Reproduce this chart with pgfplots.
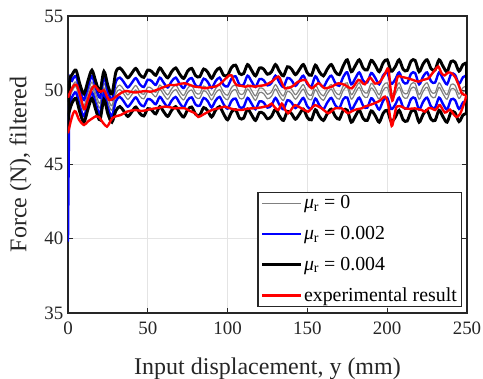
\documentclass[border=0pt]{standalone}
\usepackage{fontspec}
\setmainfont{Liberation Serif}
\usepackage{pgfplots}
\usepackage{pgfplotstable}
\pgfplotsset{compat=1.18}
\definecolor{axgray}{RGB}{38,38,38}
\definecolor{gridgray}{RGB}{228,228,228}
\definecolor{simgray}{RGB}{128,128,128}

\pgfplotstableread{
x gu gl bu bl ku kl
0 48.5 49.05 39.8 48.65 47.3 48.25
1 49.75 49.45 50.15 49.05 50.55 48.65
2.5 50.23 49.93 50.63 49.53 51.03 49.13
5 50.55 50.25 50.95 49.85 51.35 49.45
7.5 49.59 49.29 49.99 48.89 50.39 48.49
10 48.95 48.65 49.35 48.25 49.75 47.85
12.5 49.83 49.53 50.23 49.13 50.63 48.73
15 50.55 50.25 50.95 49.85 51.35 49.45
17.5 49.75 49.45 50.15 49.05 50.55 48.65
20 49.11 48.81 49.51 48.41 49.91 48.01
22.5 50.47 50.17 50.87 49.77 51.27 49.37
25 49.51 49.21 49.91 48.81 50.31 48.41
27.5 48.95 48.65 49.35 48.25 49.75 47.85
30 50.07 49.77 50.57 49.27 51.22 48.62
32.5 50.35 50.05 50.85 49.55 51.5 48.9
35 50.04 49.74 50.54 49.24 51.19 48.59
37.5 49.69 49.39 50.19 48.89 50.84 48.24
40 50.0 49.7 50.5 49.2 51.15 48.55
42.5 50.32 50.02 50.82 49.52 51.47 48.87
45 49.9 49.6 50.4 49.1 51.05 48.45
47.5 49.72 49.42 50.22 48.92 50.87 48.27
50 50.21 49.91 50.71 49.41 51.36 48.76
52.5 50.11 49.81 50.61 49.31 51.26 48.66
55 49.86 49.56 50.36 49.06 51.01 48.41
57.5 50.35 50.05 50.85 49.55 51.5 48.9
60 50.0 49.7 50.5 49.2 51.15 48.55
62.5 49.69 49.39 50.19 48.89 50.84 48.24
65 50.11 49.81 50.61 49.31 51.26 48.66
67.5 50.35 50.05 50.85 49.55 51.5 48.9
70 49.93 49.63 50.43 49.13 51.08 48.48
72.5 49.65 49.35 50.15 48.85 50.8 48.2
75 50.14 49.84 50.64 49.34 51.29 48.69
77.5 50.32 50.02 50.82 49.52 51.47 48.87
80 49.83 49.53 50.33 49.03 50.98 48.38
82.5 49.76 49.46 50.26 48.96 50.91 48.31
85 50.28 49.98 50.78 49.48 51.43 48.83
87.5 50.07 49.77 50.57 49.27 51.22 48.62
90 49.65 49.35 50.15 48.85 50.8 48.2
92.5 50.11 49.81 50.61 49.31 51.26 48.66
95 50.35 50.05 50.85 49.55 51.5 48.9
97.5 49.86 49.56 50.36 49.06 51.01 48.41
100 49.66 49.36 50.26 48.76 51.01 48.01
102.5 50.19 49.89 50.79 49.29 51.54 48.54
105 50.34 50.04 50.94 49.44 51.69 48.69
107.5 49.77 49.47 50.37 48.87 51.12 48.12
110 49.77 49.47 50.37 48.87 51.12 48.12
112.5 50.38 50.08 50.98 49.48 51.73 48.73
115 50.0 49.7 50.6 49.1 51.35 48.35
117.5 49.62 49.32 50.22 48.72 50.97 47.97
120 50.15 49.85 50.75 49.25 51.5 48.5
122.5 50.08 49.78 50.68 49.18 51.43 48.43
125 49.73 49.43 50.33 48.83 51.08 48.08
127.5 49.89 49.59 50.49 48.99 51.24 48.24
130 50.38 50.08 50.98 49.48 51.73 48.73
132.5 49.92 49.62 50.52 49.02 51.27 48.27
135 49.62 49.32 50.22 48.72 50.97 47.97
137.5 50.23 49.93 50.83 49.33 51.58 48.58
140 50.08 49.78 50.68 49.18 51.43 48.43
142.5 49.7 49.4 50.3 48.8 51.05 48.05
145 50.04 49.74 50.64 49.14 51.39 48.39
147.5 50.38 50.08 50.98 49.48 51.73 48.73
150 49.81 49.51 50.41 48.91 51.16 48.16
152.5 49.66 49.36 50.26 48.76 51.01 48.01
155 50.34 50.04 50.94 49.44 51.69 48.69
157.5 49.89 49.59 50.49 48.99 51.24 48.24
160 49.62 49.32 50.22 48.72 50.97 47.97
162.5 50.08 49.78 50.68 49.18 51.43 48.43
165 50.38 50.08 50.98 49.48 51.73 48.73
167.5 49.89 49.59 50.49 48.99 51.24 48.24
170 49.7 49.4 50.3 48.8 51.05 48.05
172.5 50.3 50.0 50.9 49.4 51.65 48.65
175 50.5 50.2 51.2 49.5 52.05 48.65
177.5 49.7 49.4 50.4 48.7 51.25 47.85
180 50.1 49.8 50.8 49.1 51.65 48.25
182.5 50.5 50.2 51.2 49.5 52.05 48.65
185 49.94 49.64 50.64 48.94 51.49 48.09
187.5 49.82 49.52 50.52 48.82 51.37 47.97
190 50.46 50.16 51.16 49.46 52.01 48.61
192.5 50.14 49.84 50.84 49.14 51.69 48.29
195 49.7 49.4 50.4 48.7 51.25 47.85
197.5 50.3 50.0 51.0 49.3 51.85 48.45
200 50.5 50.2 51.2 49.5 52.05 48.65
202.5 49.74 49.44 50.44 48.74 51.29 47.89
205 50.02 49.72 50.72 49.02 51.57 48.17
207.5 50.5 50.2 51.2 49.5 52.05 48.65
210 49.86 49.56 50.56 48.86 51.41 48.01
212.5 49.78 49.48 50.48 48.78 51.33 47.93
215 50.42 50.12 51.12 49.42 51.97 48.57
217.5 50.46 50.16 51.16 49.46 52.01 48.61
220 49.7 49.4 50.4 48.7 51.25 47.85
222.5 50.22 49.92 50.92 49.22 51.77 48.37
225 50.5 50.2 51.2 49.5 52.05 48.65
227.5 49.9 49.6 50.6 48.9 51.45 48.05
230 49.82 49.52 50.52 48.82 51.37 47.97
232.5 50.5 50.2 51.2 49.5 52.05 48.65
235 50.06 49.76 50.76 49.06 51.61 48.21
237.5 49.7 49.4 50.4 48.7 51.25 47.85
240 50.38 50.08 51.08 49.38 51.93 48.53
242.5 50.34 50.04 51.04 49.34 51.89 48.49
245 49.74 49.44 50.44 48.74 51.29 47.89
247.5 50.18 49.88 50.88 49.18 51.73 48.33
250 50.3 50.0 51.0 49.3 51.85 48.45
}\simdata

\begin{document}
\begin{tikzpicture}
\path[use as bounding box] (-51pt,-49.5pt) rectangle (311.25pt,234.75pt);
\begin{axis}[
  at={(0,0)}, anchor=south west,
  scale only axis, width=299.25pt, height=222.75pt,
  xmin=0, xmax=250, ymin=35, ymax=55,
  xtick={0,50,100,150,200,250}, ytick={35,40,45,50,55},
  grid=major, major grid style={gridgray, line width=0.8pt},
  axis line style={axgray, line width=1.5pt},
  tick style={axgray, line width=0.8pt}, tick align=inside, major tick length=3.5pt,
  ticklabel style={font=\fontsize{14.2}{16}\selectfont, text=axgray},
  xticklabel style={yshift=-3.5pt},
  /pgf/number format/assume math mode=true,
  label style={font=\fontsize{18}{21}\selectfont, text=axgray},
  xlabel={Input displacement, y (mm)},
  ylabel={Force (N), filtered},
  xlabel style={at={(axis description cs:0.5,-0.188)}, anchor=center},
  ylabel style={at={(axis description cs:-0.119,0.5)}, anchor=center},
  legend cell align=left,
  legend image code/.code={\draw[#1] (0pt,0pt) -- (29pt,0pt);},
  legend style={at={(0.9875,0.0202)}, anchor=south east, draw=axgray, line width=0.8pt,
    fill=white, font=\fontsize{14.9}{17}\selectfont, inner xsep=2pt, inner ysep=1pt,
    row sep=8.5pt, nodes={inner sep=1.5pt}},
]
% mu_r = 0
\addplot[simgray, line width=0.9pt, smooth, forget plot] table[x=x, y=gu] {\simdata};
\addplot[simgray, line width=0.9pt, smooth, forget plot] table[x=x, y=gl] {\simdata};
\addplot[simgray, line width=0.9pt, forget plot] coordinates {(249.8,50.3) (249.8,50.0)};
% mu_r = 0.002
\addplot[blue, line width=1.8pt, smooth, forget plot] table[x=x, y=bu] {\simdata};
\addplot[blue, line width=1.8pt, smooth, forget plot] table[x=x, y=bl] {\simdata};
\addplot[blue, line width=1.8pt, forget plot] coordinates {(249.8,51.0) (249.8,49.3)};
% mu_r = 0.004
\addplot[black, line width=2.2pt, smooth, forget plot] table[x=x, y=ku] {\simdata};
\addplot[black, line width=2.2pt, smooth, forget plot] table[x=x, y=kl] {\simdata};
\addplot[black, line width=2.2pt, forget plot] coordinates {(249.8,51.85) (249.8,48.45)};
% experimental upper
\addplot[red, line width=1.8pt, smooth, forget plot] coordinates {
(0,49.5) (1.5,49.9) (3.5,50.3) (5.5,50.35) (7.5,49.7) (9.5,48.9) (10.6,48.75) (12.5,49.4)
(15,50.1) (16.8,50.3) (19,50.0) (20.5,49.9) (22.5,50.0) (24,49.7) (25.7,49.35) (28,49.4)
(30.5,49.6) (33,49.8) (36,49.95) (39,49.9) (42,49.85) (45.5,49.9) (48.5,49.95) (51.8,49.9)
(55,50.0) (58,50.13) (60.8,50.24) (63.3,50.35) (67,50.35) (70,50.42) (73.3,50.47) (76.5,50.35)
(79.6,50.24) (83,50.2) (85.8,50.13) (89,50.2) (92,50.24) (95,50.4) (98,50.7) (101,51.0)
(102.5,51.0) (104,50.6) (105.7,50.35) (108.5,50.3) (111,50.24) (114,50.3) (117,50.24) (120,50.3)
(123.4,50.35) (127.6,50.58) (131.8,50.92) (134,50.5) (136,50.13) (140.2,50.24) (144.3,50.58)
(148.5,50.7) (150.5,50.4) (152.7,50.13) (156.8,50.47) (159,50.3) (161,50.13) (165.2,50.24)
(169.4,50.47) (173.6,50.35) (177.8,50.13) (181.9,50.7) (184,50.55) (186,50.4) (189.2,50.85)
(192.4,50.45) (195.5,50.58) (198.6,51.1) (200.7,51.45) (202,50.2) (203.2,49.3) (204.5,49.8)
(206.5,50.9) (209,50.9) (213,50.8) (216,50.7) (219.5,50.58) (222.5,50.7) (225.8,50.8)
(228,51.1) (230,51.36) (232,51.6) (234.1,51.14) (236,51.0) (238.3,51.2) (240.4,51.14)
(242.5,50.9) (244.6,50.4) (246.7,49.8) (248,49.7) (249.5,49.7)};
% experimental lower
\addplot[red, line width=1.8pt, smooth, forget plot] coordinates {
(0,47.1) (1.7,47.9) (3.5,48.5) (4.8,48.56) (7,48.0) (10,47.66) (12.5,47.9) (15.2,48.1)
(17.5,48.25) (19.4,48.2) (22,47.8) (24.4,47.55) (26,47.8) (27.6,48.1) (30,48.25) (33,48.33)
(37,48.56) (42.4,48.67) (46,48.6) (49.5,48.67) (53,48.75) (56,48.8) (60.8,48.9) (64,48.85)
(67,48.78) (70,48.8) (73.3,48.78) (76.5,48.6) (79.6,48.45) (81.6,48.2) (84.5,48.35) (88,48.56)
(91,48.7) (94.2,48.78) (98.4,48.9) (101,48.8) (104.5,48.7) (108.8,48.67) (112,48.75) (115,48.78)
(118,48.8) (121.4,48.85) (123.4,48.9) (125.5,48.95) (127.6,49.1) (129.5,48.85) (131.8,48.67)
(134,49.1) (136,48.7) (138,48.45) (140.2,48.75) (142.2,49.0) (144.3,48.9) (146.4,48.78)
(148.5,48.65) (150.6,48.56) (152.7,48.8) (154.8,49.0) (157,48.9) (159,48.78) (161,48.6)
(163.2,48.45) (165.2,48.6) (167.3,48.78) (169.4,48.8) (171.5,48.78) (173.6,48.6) (175.6,48.45)
(178,48.6) (181,48.72) (184,48.78) (186,48.9) (189,49.0) (192.4,49.14) (195.5,49.3)
(198.6,49.57) (200.5,49.1) (202.8,47.6) (204.5,48.3) (206,48.9) (209,48.9) (211,48.78)
(214,48.75) (217.4,48.78) (219.5,48.72) (221.6,48.67) (223.7,48.56) (226,48.8) (227.9,48.78)
(230,48.67) (232,48.9) (233.1,49.0) (236.2,48.5) (239.3,48.7) (241.5,48.4) (243.5,48.2)
(245.6,48.4) (247.5,48.9) (249,49.4) (249.5,49.7)};
% legend
\addlegendimage{simgray, line width=1pt}
\addlegendentry{\textit{μ}\textsubscript{r} = 0}
\addlegendimage{blue, line width=2pt}
\addlegendentry{\textit{μ}\textsubscript{r} = 0.002}
\addlegendimage{black, line width=2pt}
\addlegendentry{\textit{μ}\textsubscript{r} = 0.004}
\addlegendimage{red, line width=2pt}
\addlegendentry{experimental result}
\end{axis}
\end{tikzpicture}
\end{document}
